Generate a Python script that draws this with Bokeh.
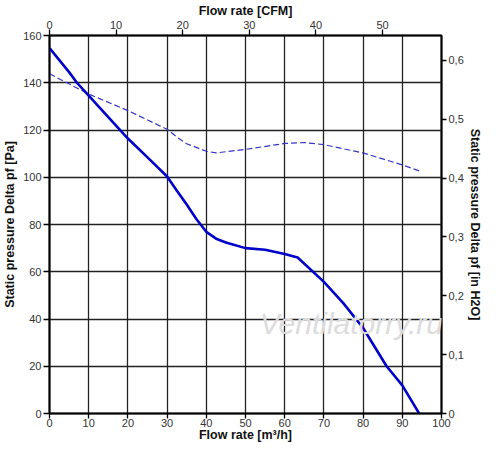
from bokeh.plotting import figure
from bokeh.models import (Range1d, LinearAxis, FixedTicker, CustomJSTickFormatter, Label)
from bokeh.embed import file_html
from bokeh.resources import INLINE

# ---- data ----
flow_main = [0, 5, 7, 10, 15, 20, 25, 30, 32.5, 35, 37.5, 40, 42.5, 45, 50, 55, 60, 63.3, 70, 75, 80, 86, 90, 94.3]
pa_main = [154.7, 144.5, 140, 134.5, 125.5, 116.4, 108.4, 100.3, 94.3, 88.5, 82.2, 76.9, 74, 72.4, 70, 69.3, 67.5, 66, 55.7, 46.6, 36.2, 20, 11.9, 0]

flow_dash = [0, 10, 20, 30, 32.8, 35, 40, 42.5, 50, 60, 65, 70, 80, 90, 94.3]
pa_dash = [143.8, 135.2, 128.2, 120.3, 116.6, 114.2, 111, 110.3, 111.8, 114.3, 114.7, 113.8, 110.3, 105.2, 102.7]

x_ticks = [0, 10, 20, 30, 40, 50, 60, 70, 80, 90, 100]
y_ticks = [0, 20, 40, 60, 80, 100, 120, 140, 160]
cfm_ticks = [0, 10, 20, 30, 40, 50]
inh2o_ticks = [0, 0.1, 0.2, 0.3, 0.4, 0.5, 0.6]

M3H_PER_CFM = 1.69901
PA_PER_INH2O = 249.089

FONT = "Liberation Sans"

p = figure(width=484, height=444, output_backend="svg", toolbar_location=None,
           x_range=Range1d(0, 100), y_range=Range1d(0, 160),
           min_border_left=42, min_border_right=30, min_border_top=28, min_border_bottom=20)
p.extra_x_ranges = {"cfm": Range1d(0, 100 / M3H_PER_CFM)}
p.extra_y_ranges = {"inh2o": Range1d(0, 160 / PA_PER_INH2O)}

p.outline_line_color = "black"
p.outline_line_width = 2
p.background_fill_color = "white"
p.border_fill_color = "white"

# grid
p.xgrid.ticker = FixedTicker(ticks=x_ticks)
p.ygrid.ticker = FixedTicker(ticks=y_ticks)
for g in (p.xgrid, p.ygrid):
    g.grid_line_color = "#222222"
    g.grid_line_width = 1.3


def style_axis(ax, label, tick_std=2, label_std=2, tick_out=6):
    ax.axis_label = label
    ax.axis_label_text_font = FONT
    ax.axis_label_text_font_style = "bold"
    ax.axis_label_text_font_size = "12.5px"
    ax.axis_label_text_color = "#111111"
    ax.axis_label_standoff = label_std
    ax.major_label_text_font = FONT
    ax.major_label_text_font_size = "11px"
    ax.major_label_text_color = "#333333"
    ax.major_label_standoff = tick_std
    ax.major_tick_out = tick_out
    ax.major_tick_in = 0
    ax.minor_tick_out = 0
    ax.minor_tick_in = 0
    ax.axis_line_color = "black"
    ax.axis_line_width = 1.5
    ax.major_tick_line_color = "black"
    ax.major_tick_line_width = 1.3


style_axis(p.xaxis[0], "Flow rate [m³/h]", 0, -2, 5)
p.xaxis[0].ticker = FixedTicker(ticks=x_ticks)
style_axis(p.yaxis[0], "Static pressure Delta pf [Pa]", 2, 3)
p.yaxis[0].ticker = FixedTicker(ticks=y_ticks)

top_ax = LinearAxis(x_range_name="cfm")
style_axis(top_ax, "Flow rate [CFM]", 1, 0)
top_ax.ticker = FixedTicker(ticks=cfm_ticks)
p.add_layout(top_ax, "above")

right_ax = LinearAxis(y_range_name="inh2o")
style_axis(right_ax, "Static pressure Delta pf [in H2O]", 2, 1, 5)
right_ax.ticker = FixedTicker(ticks=inh2o_ticks)
right_ax.formatter = CustomJSTickFormatter(
    code="return Math.abs(tick) < 1e-9 ? '0' : tick.toFixed(1).replace('.', ',');")
p.add_layout(right_ax, "right")

# watermark
p.add_layout(Label(x=77, y=38, text="Ventilatorry.ru", text_font=FONT,
                   text_font_style="italic", text_font_size="30px",
                   text_color="#dcdcdc", text_align="center", text_baseline="middle"))

# curves
p.line(flow_dash, pa_dash, line_color="#3535c8", line_width=1.2, line_dash="6 3")
p.line(flow_main, pa_main, line_color="#0000c8", line_width=2.6)

open("out.html", "w").write(file_html(p, INLINE))
